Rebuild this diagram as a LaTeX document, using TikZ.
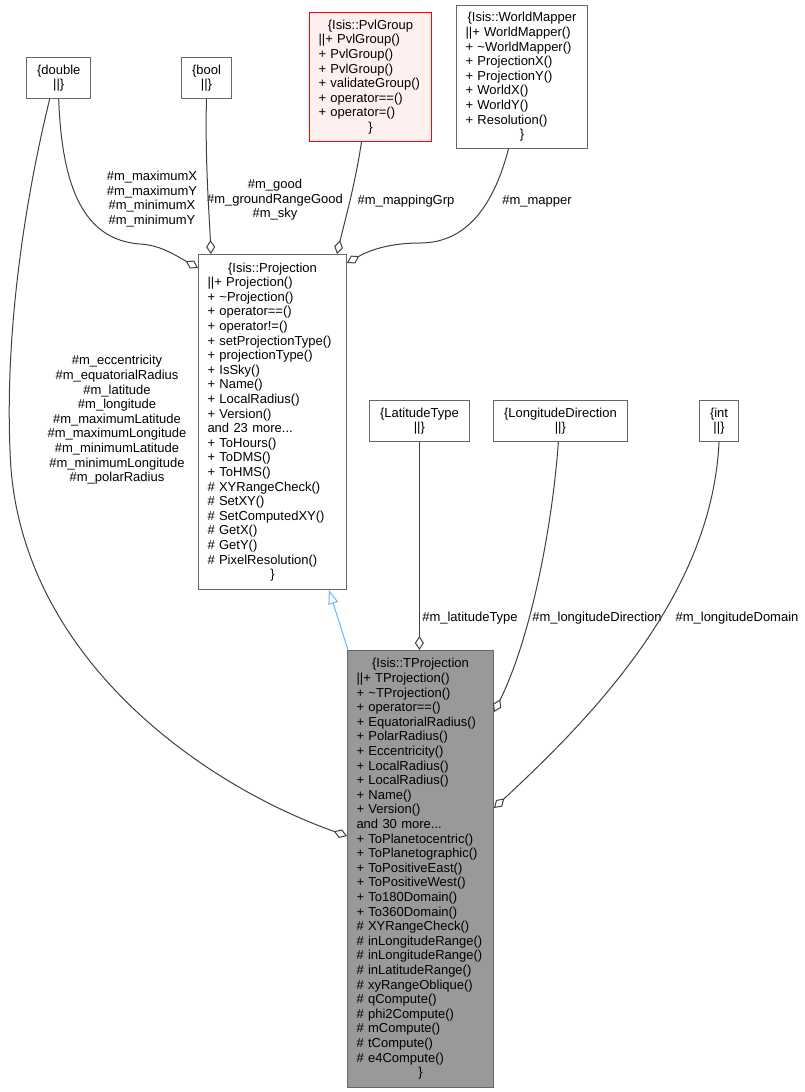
\documentclass[tikz,border=0pt]{standalone}
\usepackage{fontspec}
\setmainfont{Liberation Sans}
\usetikzlibrary{arrows.meta}
\setlength{\parindent}{0pt}
\hyphenpenalty=10000
\exhyphenpenalty=10000
\definecolor{boxgray}{HTML}{666666}
\definecolor{edgegray}{HTML}{404040}
\definecolor{inhblue}{HTML}{63B8FF}
\definecolor{pvlred}{HTML}{FF0000}
\definecolor{pvlfill}{HTML}{FFF0F0}
\definecolor{tprojfill}{HTML}{999999}
\begin{document}
\begin{tikzpicture}[x=1pt,y=-1pt]
        \tikzstyle{classbox}=[draw=boxgray, line width=1pt, anchor=north west, inner xsep=9pt, inner ysep=0pt, align=left, font=\fontsize{13}{14.6}\selectfont]
        \tikzstyle{typebox}=[draw=boxgray, line width=1pt, anchor=north west, minimum height=41pt, inner xsep=10.5pt, align=center, font=\fontsize{13}{14.6}\selectfont]
        \tikzstyle{memberlabel}=[align=center, inner sep=0pt, font=\fontsize{13}{14.6}\selectfont]
        \tikzstyle{aggr}=[draw=edgegray, line width=1pt, -{Diamond[open,length=14pt,width=9pt]}]
        \tikzstyle{inherit}=[draw=inhblue, line width=1pt, -{Triangle[open,length=14pt,width=10pt]}]
        \useasboundingbox (0,0) rectangle (804,1092);
        \foreach \n/\x/\y/\t in {dbl/26/57/double, boolt/181/57/bool, lat/369/400/LatitudeType, londir/493/400/LongitudeDirection, intt/699/400/int}
            \node[typebox] (\n) at (\x,\y) {\{\t\\||\}};
        \node[classbox, text width=104pt, minimum height=129pt, draw=pvlred, fill=pvlfill] (pvl) at (309,12)
            {{\centering\{Isis::PvlGroup\par}||+ PvlGroup()\\+ PvlGroup()\\+ PvlGroup()\\+ validateGroup()\\+ operator==()\\+ operator=()\par{\centering\}\par}};
        \node[classbox, text width=113pt, minimum height=143pt] (wmap) at (456,5)
            {{\centering\{Isis::WorldMapper\par}||+ WorldMapper()\\+ \textasciitilde WorldMapper()\\+ ProjectionX()\\+ ProjectionY()\\+ WorldX()\\+ WorldY()\\+ Resolution()\par{\centering\}\par}};
        \node[classbox, text width=130pt, minimum height=335pt] (proj) at (198,254)
            {{\centering\{Isis::Projection\par}||+ Projection()\\+ \textasciitilde Projection()\\+ operator==()\\+ operator!=()\\+ setProjectionType()\\+ projectionType()\\+ IsSky()\\+ Name()\\+ LocalRadius()\\+ Version()\\and 23 more...\\+ ToHours()\\+ ToDMS()\\+ ToHMS()\\\# XYRangeCheck()\\\# SetXY()\\\# SetComputedXY()\\\# GetX()\\\# GetY()\\\# PixelResolution()\par{\centering\}\par}};
        \node[classbox, text width=128pt, minimum height=437pt, fill=tprojfill] (tproj) at (347,650)
            {{\centering\{Isis::TProjection\par}||+ TProjection()\\+ \textasciitilde TProjection()\\+ operator==()\\+ EquatorialRadius()\\+ PolarRadius()\\+ Eccentricity()\\+ LocalRadius()\\+ LocalRadius()\\+ Name()\\+ Version()\\and 30 more...\\+ ToPlanetocentric()\\+ ToPlanetographic()\\+ ToPositiveEast()\\+ ToPositiveWest()\\+ To180Domain()\\+ To360Domain()\\\# XYRangeCheck()\\\# inLongitudeRange()\\\# inLongitudeRange()\\\# inLatitudeRange()\\\# xyRangeOblique()\\\# qCompute()\\\# phi2Compute()\\\# mCompute()\\\# tCompute()\\\# e4Compute()\par{\centering\}\par}};
        \node[memberlabel] (lblmax) at (152,199) {\#m\_maximumX\\\#m\_maximumY\\\#m\_minimumX\\\#m\_minimumY};
        \node[memberlabel] (lblgood) at (275,200) {\#m\_good\\\#m\_groundRangeGood\\\#m\_sky};
        \node[memberlabel] (lblmapgrp) at (406,201) {\#m\_mappingGrp};
        \node[memberlabel] (lblmapper) at (537,201) {\#m\_mapper};
        \node[memberlabel] (lbldbl) at (117,420) {\#m\_eccentricity\\\#m\_equatorialRadius\\\#m\_latitude\\\#m\_longitude\\\#m\_maximumLatitude\\\#m\_maximumLongitude\\\#m\_minimumLatitude\\\#m\_minimumLongitude\\\#m\_polarRadius};
        \node[memberlabel] (lbllat) at (470,618) {\#m\_latitudeType};
        \node[memberlabel] (lbllondir) at (597,618) {\#m\_longitudeDirection};
        \node[memberlabel] (lbllondom) at (737,618) {\#m\_longitudeDomain};
        \draw[aggr] (dbl.south) .. controls (62,190) and (85,240) .. (140,244) .. controls (160,245) and (175,255) .. ([yshift=-14pt]proj.north west);
        \draw[aggr] (boolt.south) .. controls (205,160) and (209,210) .. ([xshift=13pt]proj.north west);
        \draw[aggr] ([xshift=-9pt]pvl.south) .. controls (355,185) and (345,220) .. ([xshift=-10pt]proj.north east);
        \draw[aggr] ([xshift=-13.5pt]wmap.south) .. controls (495,200) and (470,243) .. (420,243) .. controls (390,243) and (370,250) .. ([yshift=-9pt]proj.north east);
        \draw[aggr] ([xshift=-9pt]dbl.south) .. controls (25,200) and (5,330) .. (10,450) .. controls (15,650) and (195,782) .. ([yshift=-186pt]tproj.north west);
        \draw[aggr] (lat.south) -- (lat.south |- tproj.north);
        \draw[aggr] ([xshift=-2pt]londir.south) .. controls (552,530) and (530,640) .. ([yshift=-62pt]tproj.north east);
        \draw[aggr] (intt.south) .. controls (712,590) and (600,710) .. ([yshift=-158pt]tproj.north east);
        \draw[inherit] ([xshift=1pt]tproj.north west) -- ([xshift=-18pt]proj.south east);
\end{tikzpicture}
\end{document}
